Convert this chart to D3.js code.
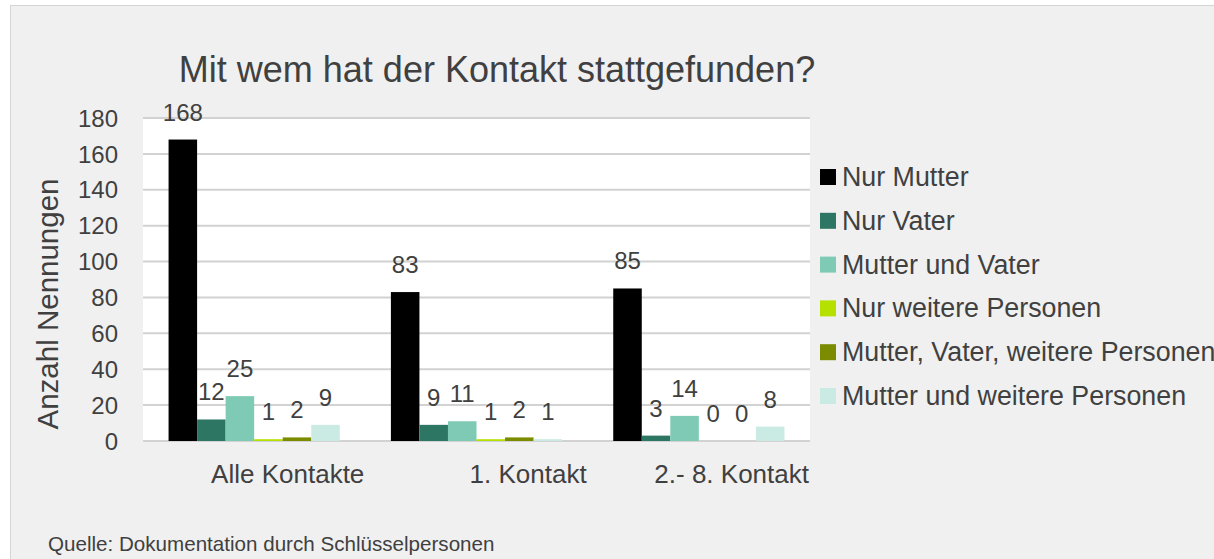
<!DOCTYPE html>
<html>
<head>
<meta charset="utf-8">
<script src="https://cdn.jsdelivr.net/npm/d3@7"></script>
<style>
  html, body { margin: 0; padding: 0; background: #fff; }
  svg text { font-family: "Liberation Sans", Arial, sans-serif; fill: #404040; }
</style>
</head>
<body>
<div id="chart"></div>
<script>
// data
const categories = ['Alle Kontakte', '1. Kontakt', '2.- 8. Kontakt'];
const seriesNames = ['Nur Mutter', 'Nur Vater', 'Mutter und Vater', 'Nur weitere Personen',
                     'Mutter, Vater, weitere Personen', 'Mutter und weitere Personen'];
const seriesColors = ['#000000', '#2e7664', '#7ecab4', '#b6e000', '#7b8c00', '#c9ebe3'];
const nurMutter = [168, 83, 85];
const nurVater = [12, 9, 3];
const mutterUndVater = [25, 11, 14];
const nurWeitere = [1, 1, 0];
const mutterVaterWeitere = [2, 2, 0];
const mutterUndWeitere = [9, 1, 8];
const yTicks = [0, 20, 40, 60, 80, 100, 120, 140, 160, 180];

const seriesValues = [nurMutter, nurVater, mutterUndVater, nurWeitere, mutterVaterWeitere, mutterUndWeitere];

const width = 1214, height = 559;
const plot = { left: 143, right: 810, top: 118, bottom: 441 };

const svg = d3.select('#chart').append('svg')
    .attr('width', width)
    .attr('height', height);

// outer frame
svg.append('rect')
    .attr('x', 10.5).attr('y', 5.5)
    .attr('width', width).attr('height', height)
    .attr('fill', '#f0f0f0')
    .attr('stroke', '#d4d4d4');

// plot area
svg.append('rect')
    .attr('x', plot.left).attr('y', plot.top)
    .attr('width', plot.right - plot.left).attr('height', plot.bottom - plot.top)
    .attr('fill', '#ffffff');

const y = d3.scaleLinear().domain([0, 180]).range([plot.bottom, plot.top]);

const xCat = d3.scaleBand().domain(categories).range([plot.left, plot.right]);
const x0 = d3.scaleBand().domain(categories).range([plot.left, plot.right])
    .paddingInner(0.23).paddingOuter(0.115);
const x1 = d3.scaleBand().domain(seriesNames).range([0, x0.bandwidth()]);

// gridlines
svg.append('g').selectAll('line')
    .data(yTicks)
    .join('line')
    .attr('x1', plot.left).attr('x2', plot.right)
    .attr('y1', d => y(d)).attr('y2', d => y(d))
    .attr('stroke', '#d2d2d2')
    .attr('stroke-width', 2);

// y tick labels
svg.append('g').selectAll('text')
    .data(yTicks)
    .join('text')
    .attr('x', 118)
    .attr('y', d => y(d))
    .attr('dy', '0.36em')
    .attr('text-anchor', 'end')
    .style('font-size', '24px')
    .text(d => d);

// bars
const rows = [];
seriesNames.forEach((s, si) => {
    categories.forEach((c, ci) => {
        rows.push({ series: s, cat: c, value: seriesValues[si][ci], color: seriesColors[si] });
    });
});

svg.append('g').selectAll('rect')
    .data(rows)
    .join('rect')
    .attr('x', d => x0(d.cat) + x1(d.series))
    .attr('y', d => y(d.value))
    .attr('width', x1.bandwidth())
    .attr('height', d => y(0) - y(d.value))
    .attr('fill', d => d.color);

// value labels
svg.append('g').selectAll('text')
    .data(rows)
    .join('text')
    .attr('x', d => x0(d.cat) + x1(d.series) + x1.bandwidth() / 2)
    .attr('y', d => y(d.value) - 19)
    .attr('text-anchor', 'middle')
    .style('font-size', '24px')
    .text(d => d.value);

// category labels (right aligned to each band)
svg.append('g').selectAll('text')
    .data(categories)
    .join('text')
    .attr('x', d => xCat(d) + xCat.bandwidth() - 1)
    .attr('y', 483)
    .attr('text-anchor', 'end')
    .style('font-size', '26px')
    .text(d => d);

// axis title
svg.append('text')
    .attr('transform', 'translate(58,304) rotate(-90)')
    .attr('text-anchor', 'middle')
    .style('font-size', '29.5px')
    .text('Anzahl Nennungen');

// title
svg.append('text')
    .attr('x', 497)
    .attr('y', 82)
    .attr('text-anchor', 'middle')
    .style('font-size', '36px')
    .text('Mit wem hat der Kontakt stattgefunden?');

// legend
const legend = svg.append('g').selectAll('g')
    .data(seriesNames)
    .join('g')
    .attr('transform', (d, i) => `translate(820, ${177 + i * 43.8})`);

legend.append('rect')
    .attr('x', 0).attr('y', -8)
    .attr('width', 16).attr('height', 16)
    .attr('fill', (d, i) => seriesColors[i]);

legend.append('text')
    .attr('x', 22)
    .attr('y', 9)
    .style('font-size', '26.8px')
    .text(d => d);

// source
svg.append('text')
    .attr('x', 48)
    .attr('y', 551)
    .style('font-size', '20.6px')
    .text('Quelle: Dokumentation durch Schlüsselpersonen');
</script>
</body>
</html>
